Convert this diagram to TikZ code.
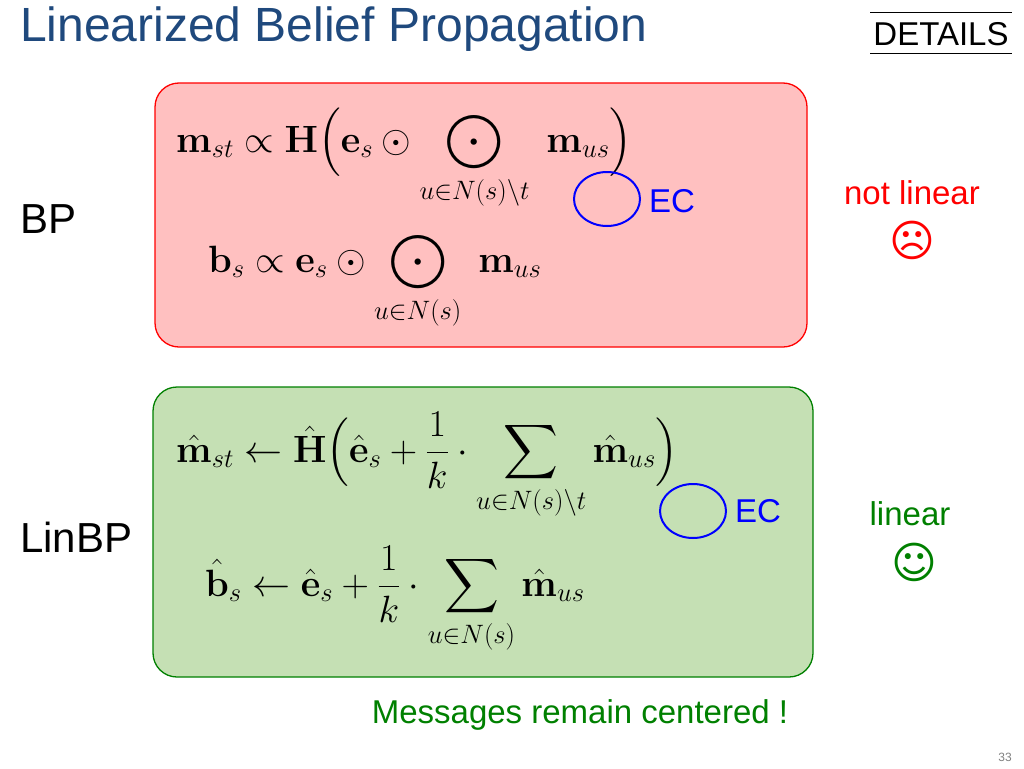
\RequirePackage{fix-cm}
\documentclass[tikz,border=0pt]{standalone}
\usepackage{amsmath,amssymb}
\usepackage[no-math]{fontspec}
\setmainfont{Liberation Sans}
\newfontfamily\djv{DejaVu Sans}
\definecolor{titleblue}{RGB}{31,73,125}
\definecolor{pinkfill}{RGB}{255,192,192}
\definecolor{greenfill}{RGB}{197,224,180}
\definecolor{dgreen}{RGB}{0,128,0}
\begin{document}
\begin{tikzpicture}[x=1pt,y=-1pt,
  box/.style={rounded corners=24pt,line width=1.3pt},
  fml/.style={anchor=base west,inner sep=0,font=\fontsize{38}{44}\selectfont},
  lbl/.style={anchor=west,inner sep=0,font=\fontsize{42}{46}\selectfont},
  ec/.style={text=blue,inner sep=0,font=\fontsize{33}{36}\selectfont},
  ring/.style={draw=blue,line width=2pt}]
\useasboundingbox (0,0) rectangle (1024,768);
\node[anchor=west,inner sep=0,text=titleblue,font=\fontsize{48}{54}\selectfont] (title) at (20,29) {Linearized Belief Propagation};
\node[inner sep=0,font=\fontsize{33}{36}\selectfont] (det) at (941,34) {DETAILS};
\draw[line width=0.8pt] (870,12) coordinate (d1) -- (1012,12) coordinate (d2);
\draw[line width=0.8pt] (870,53) coordinate (d3) -- (1012,53) coordinate (d4);
\draw[box,draw=red,fill=pinkfill] (155,83) rectangle (807,347);
\draw[box,draw=dgreen,fill=greenfill] (153,387) rectangle (813,677);
\node[lbl] (bp) at (20,219) {BP};
\node[lbl] (lin) at (20,537) {LinBP};
\node[fml] (f1) at (176,152) {$\mathbf{m}_{st}\propto\mathbf{H}\Bigl(\mathbf{e}_s\odot\displaystyle\bigodot\limits_{u\in N(s)\backslash t}\ \mathbf{m}_{us}\Bigr)$};
\node[fml] (f2) at (208,272) {$\mathbf{b}_s\propto\mathbf{e}_s\odot\displaystyle\bigodot\limits_{u\in N(s)}\ \mathbf{m}_{us}$};
\node[fml] (f3) at (176,462) {$\hat{\mathbf{m}}_{st}\leftarrow\hat{\mathbf{H}}\Bigl(\hat{\mathbf{e}}_s+\dfrac{1}{k}\cdot\displaystyle\sum\limits_{u\in N(s)\backslash t}\hat{\mathbf{m}}_{us}\Bigr)$};
\node[fml] (f4) at (205,596) {$\hat{\mathbf{b}}_s\leftarrow\hat{\mathbf{e}}_s+\dfrac{1}{k}\cdot\displaystyle\sum\limits_{u\in N(s)}\hat{\mathbf{m}}_{us}$};
\draw[ring] (607,199) ellipse [x radius=33,y radius=27];
\draw[ring] (693,511) ellipse [x radius=33,y radius=27];
\node[ec] (ec1) at (672,201) {EC};
\node[ec] (ec2) at (758,511) {EC};
\node[inner sep=0,text=red,font=\fontsize{33}{36}\selectfont] (nl) at (912,193) {not linear};
\node[inner sep=0,text=red,font=\djv\fontsize{44}{46}\selectfont] (sad) at (912,240) {☹};
\node[inner sep=0,text=dgreen,font=\fontsize{33}{36}\selectfont] (li) at (910,514) {linear};
\node[inner sep=0,text=dgreen,font=\djv\fontsize{44}{46}\selectfont] (happy) at (914,562) {☺};
\node[inner sep=0,text=dgreen,font=\fontsize{33}{36}\selectfont] (msg) at (580,715) {Messages remain centered !};
\node[inner sep=0,text=gray,font=\fontsize{12}{14}\selectfont] (pg) at (1005,757) {33};
\end{tikzpicture}
\end{document}
